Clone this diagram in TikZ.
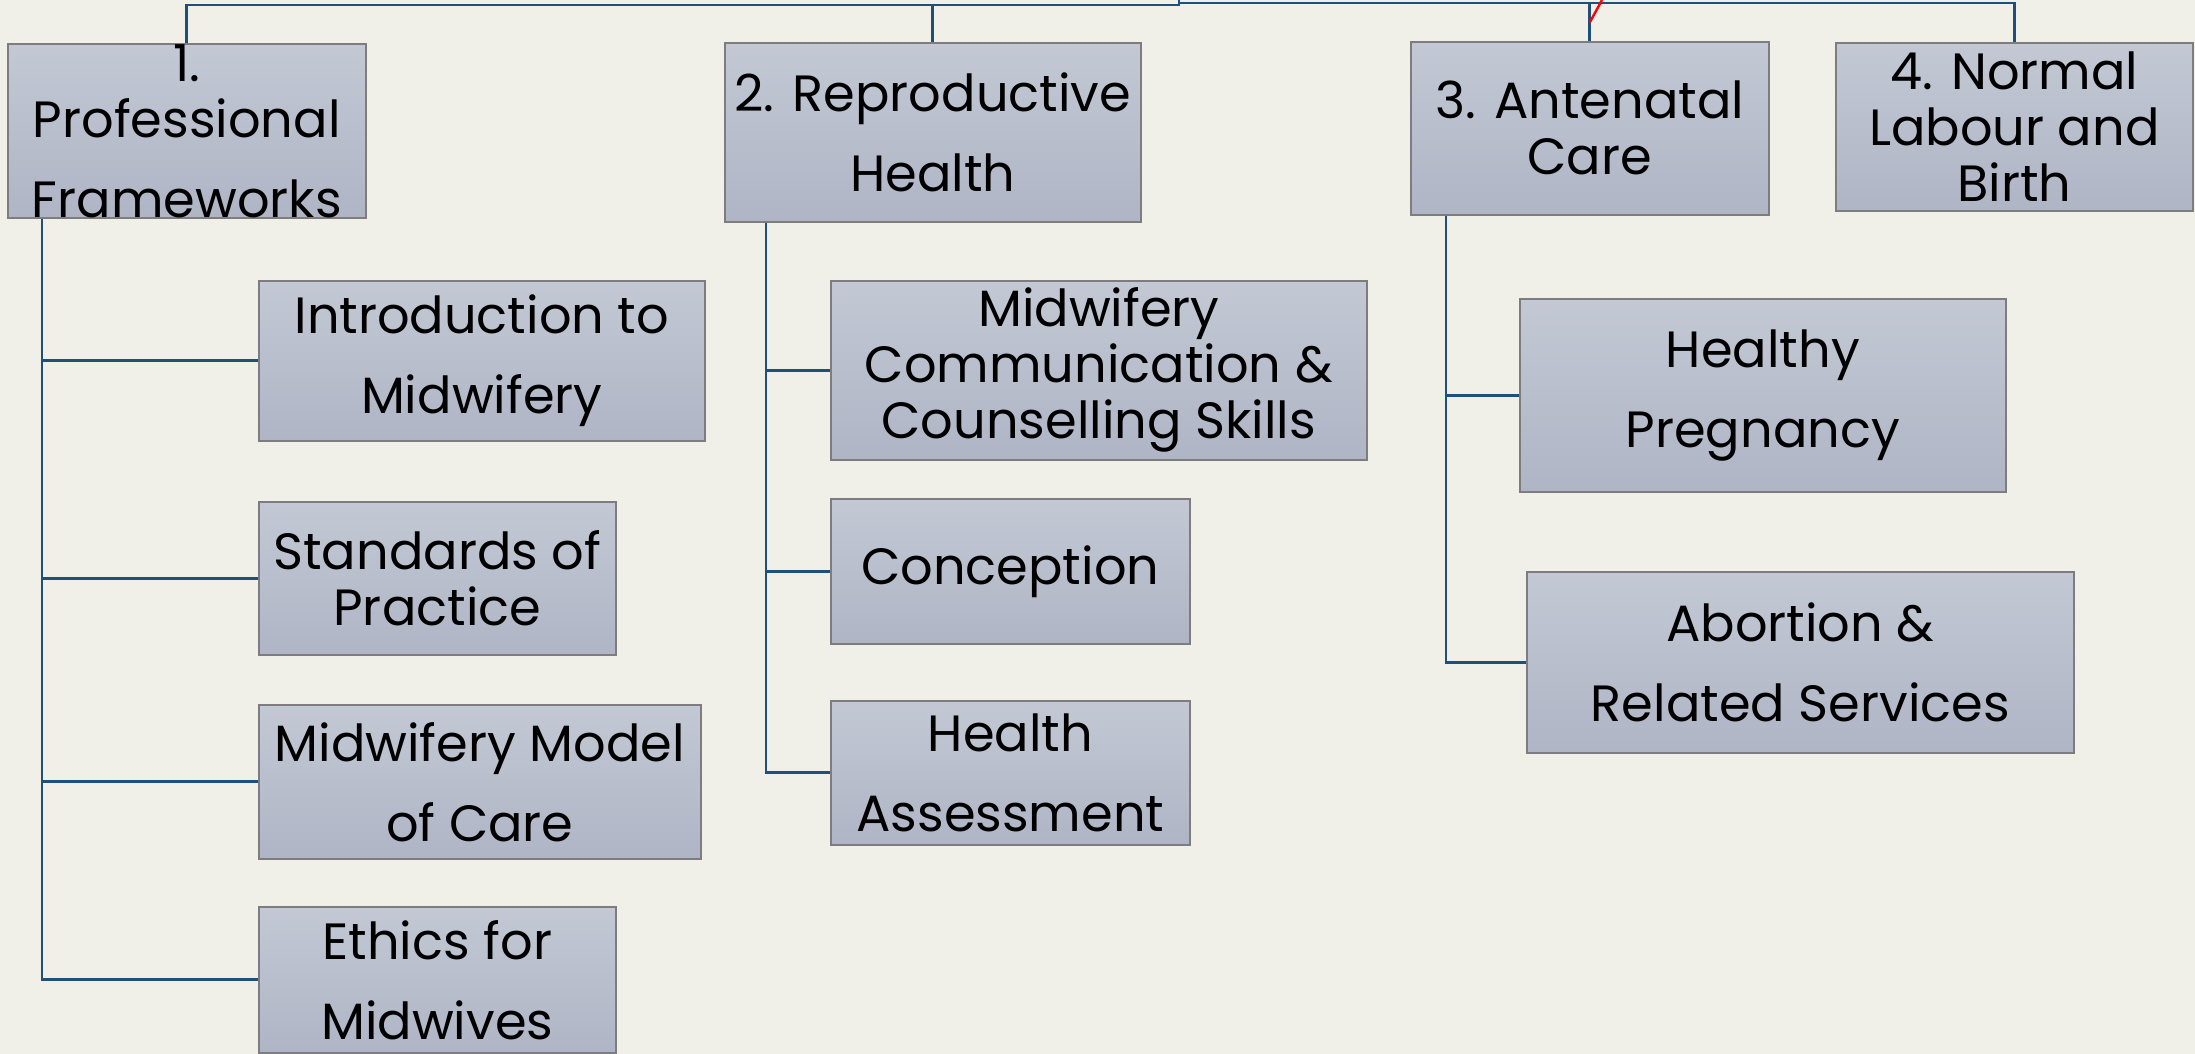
\documentclass[tikz,border=0pt]{standalone}
\usepackage{fontspec}
\setmainfont{Poppins}
\usetikzlibrary{calc}

\definecolor{paper}{RGB}{240,239,232}
\definecolor{boxtop}{RGB}{195,200,212}
\definecolor{boxbot}{RGB}{176,181,198}
\definecolor{boxline}{RGB}{125,125,128}
\definecolor{linkblue}{RGB}{31,80,124}

\tikzset{
  topic/.style={rectangle, draw=boxline, line width=0.8pt, top color=boxtop,
    bottom color=boxbot, anchor=north west, inner sep=0pt},
  txt/.style={align=center, inner sep=0pt, text=black,
    font=\fontsize{25.5}{40}\selectfont},
  tight/.style={font=\fontsize{25.5}{28}\selectfont},
  link/.style={draw=linkblue, line width=1.4pt},
}

\begin{document}
\begin{tikzpicture}[x=0.5pt, y=-0.5pt]
  \fill[paper] (0,0) rectangle (2195,1054);
  \useasboundingbox (0,0) rectangle (2195,1054);

  % top level
  \node[topic, minimum width=179pt, minimum height=87pt,
    label={[txt, tight]center:{1.\\Professional\\[12pt]Frameworks}}] (pf) at (7,43) {};
  \node[topic, minimum width=208pt, minimum height=89.5pt,
    label={[txt]center:{2. Reproductive\\Health}}] (rh) at (724,42) {};
  \node[topic, minimum width=179pt, minimum height=86.5pt,
    label={[txt, tight]center:{3. Antenatal\\Care}}] (ac) at (1410,41) {};
  \node[topic, minimum width=178.5pt, minimum height=84pt,
    label={[txt, tight]center:{4. Normal\\Labour and\\Birth}}] (nl) at (1835,42) {};

  % 1. Professional Frameworks
  \node[topic, minimum width=223pt, minimum height=80pt,
    label={[txt]center:{Introduction to\\Midwifery}}] (intro) at (258,280) {};
  \node[topic, minimum width=178.5pt, minimum height=76.5pt,
    label={[txt, tight]center:{Standards of\\Practice}}] (std) at (258,501) {};
  \node[topic, minimum width=221pt, minimum height=77pt,
    label={[txt]center:{Midwifery Model\\of Care}}] (model) at (258,704) {};
  \node[topic, minimum width=178.5pt, minimum height=73pt,
    label={[txt]center:{Ethics for\\Midwives}}] (ethics) at (258,906) {};

  % 2. Reproductive Health
  \node[topic, minimum width=268pt, minimum height=89.5pt,
    label={[txt, tight]center:{Midwifery\\Communication \&\\Counselling Skills}}] (comm) at (830,280) {};
  \node[topic, minimum width=179.5pt, minimum height=72.5pt,
    label={[txt]center:{Conception}}] (concep) at (830,498) {};
  \node[topic, minimum width=179.5pt, minimum height=72pt,
    label={[txt]center:{Health\\Assessment}}] (assess) at (830,700) {};

  % 3. Antenatal Care
  \node[topic, minimum width=243pt, minimum height=96.5pt,
    label={[txt]center:{Healthy\\Pregnancy}}] (preg) at (1519,298) {};
  \node[topic, minimum width=273.5pt, minimum height=90.5pt,
    label={[txt]center:{Abortion \&\\Related Services}}] (abort) at (1526,571) {};

  % connectors
  \coordinate (root) at (1179,0);
  \coordinate (busL) at (1179,5);
  \coordinate (busR) at (1179,3);
  \draw[link] (root) -- (busL) -| (pf.north);
  \draw[link] (busL) -| (rh.north);
  \draw[link] (busR) -| (ac.north);
  \draw[link] (busR) -| (nl.north);

  \coordinate (t1) at ([xshift=17.5pt]pf.south west);
  \coordinate (t2) at ([xshift=21pt]rh.south west);
  \coordinate (t3) at ([xshift=18pt]ac.south west);
  \foreach \c in {intro,std,model,ethics}
    \draw[link] (t1) |- (\c.west);
  \foreach \c in {comm,concep,assess}
    \draw[link] (t2) |- (\c.west);
  \foreach \c in {preg,abort}
    \draw[link] (t3) |- (\c.west);

  % stray red mark
  \draw[red, line width=1.2pt] (1602,0) -- (1590,22);
\end{tikzpicture}
\end{document}
